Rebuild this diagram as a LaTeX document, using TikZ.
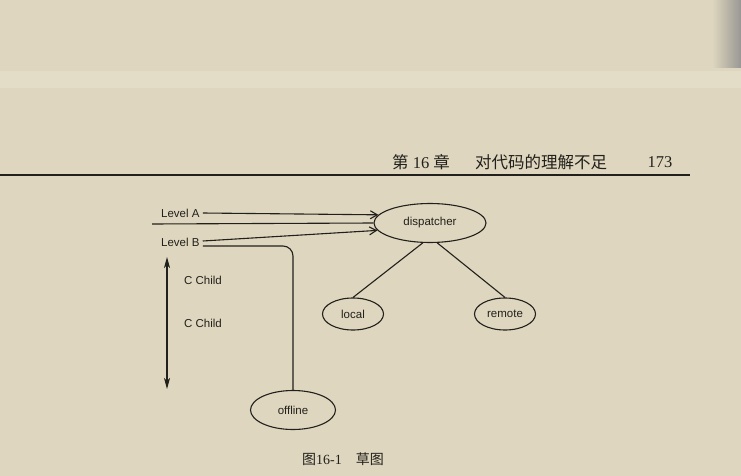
\documentclass[tikz,border=0pt]{standalone}
\usepackage{fontspec}
\setmainfont{Liberation Serif}
\setsansfont{Liberation Sans}
\newfontfamily\cjk{Noto Sans CJK SC}
\usetikzlibrary{shapes.geometric,arrows.meta}

\definecolor{paper}{RGB}{222,214,190}
\definecolor{band}{RGB}{227,220,198}
\definecolor{ink}{RGB}{34,32,28}

\begin{document}
\begin{tikzpicture}[x=1pt,y=-1pt,
    every node/.style={text=ink},
    lbl/.style={font=\sffamily\fontsize{11.5}{13}\selectfont, inner sep=0pt, anchor=west},
    blob/.style={ellipse, draw=ink, line width=1.1pt, inner sep=0pt,
      font=\sffamily\fontsize{11.5}{13}\selectfont},
    wire/.style={draw=ink, line width=1.1pt},
    barb/.style={wire, -{Straight Barb[length=7pt,width=8pt]}},
    bothway/.style={wire, {Stealth[length=11pt,width=6pt,inset=3pt]}-{Stealth[length=11pt,width=6pt,inset=3pt]}}]
  \useasboundingbox (0,0) rectangle (741,476);
  \fill[paper] (-5,-5) rectangle (746,481);
  \fill[band] (-5,71) rectangle (746,88);
  \shade[left color=paper, right color=black!45] (712,-5) rectangle (746,68);

  \node[font=\fontsize{16.5}{18}\selectfont, inner sep=0pt] (chap) at (421,162)
    {{\cjk 第}~16~{\cjk 章}};
  \node[font=\cjk\fontsize{16.5}{18}\selectfont, inner sep=0pt] (title) at (541,162)
    {对代码的理解不足};
  \node[font=\fontsize{16.5}{18}\selectfont, inner sep=0pt] (pageno) at (660,162) {173};
  \draw[draw=ink, line width=1.2pt] (-5,175) -- (690,175);

  \node[lbl] (lvla) at (161,213) {Level A};
  \node[lbl] (lvlb) at (161,242) {Level B};
  \node[lbl] (cone) at (184,280) {C Child};
  \node[lbl] (ctwo) at (184,323) {C Child};

  \node[blob, minimum width=112pt, minimum height=39pt] (disp) at (430,223) {dispatcher};
  \node[blob, minimum width=61pt, minimum height=32pt] (local) at (353,314) {local};
  \node[blob, minimum width=61pt, minimum height=32pt] (remote) at (505,314) {remote};
  \node[blob, minimum width=85pt, minimum height=39pt] (offline) at (293,410) {offline};

  \coordinate (feed) at (152,224);
  \coordinate (up) at (167,257);
  \coordinate (down) at (167,389);

  \draw[barb] ([xshift=3pt]lvla.east) -- (disp.171);
  \draw[wire] (feed) -- (disp.west);
  \draw[barb] ([xshift=3pt,yshift=1pt]lvlb.east) -- (disp.188);
  \draw[wire, rounded corners=10pt] ([xshift=3pt,yshift=-4pt]lvlb.east) -| (offline.north);
  \draw[wire] (disp.250) -- (local.north);
  \draw[wire] (disp.290) -- (remote.north);
  \draw[bothway] (up) -- (down);

  \node[font=\fontsize{14}{16}\selectfont, inner sep=0pt] (caption) at (343,459)
    {{\cjk 图}16-1\hspace{1em}{\cjk 草图}};
\end{tikzpicture}
\end{document}
